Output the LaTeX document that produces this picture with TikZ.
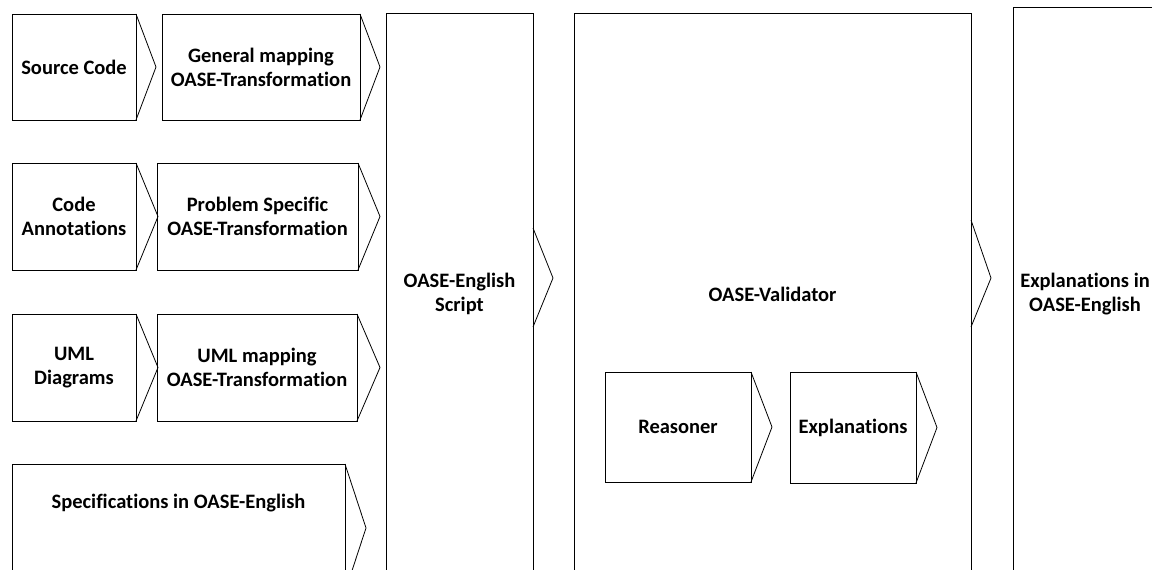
\documentclass[tikz,border=0pt]{standalone}
\usepackage{fontspec}
\setmainfont{Carlito}[RawFeature={-liga}]
\begin{document}
\begin{tikzpicture}[x=1bp,y=-1bp,
  box/.style={draw=black, line width=0.8bp, rectangle, inner sep=0pt, outer sep=0pt,
    align=center, font=\bfseries\fontsize{20.5bp}{24bp}\selectfont},
  lbl/.style={inner sep=0pt, align=center, font=\bfseries\fontsize{20.5bp}{24bp}\selectfont},
  chev/.style={draw=black, line width=0.8bp, line join=miter}]
\useasboundingbox (0,0) rectangle (1152,570);

% input sources and their transformations
\node[box, minimum width=124bp, minimum height=106bp] (src) at (74,67) {Source Code};
\node[box, minimum width=198bp, minimum height=106bp] (gen) at (261,67) {General mapping\\OASE-Transformation};
\node[box, minimum width=124bp, minimum height=107bp] (ann) at (74,216.5) {Code\\Annotations};
\node[box, minimum width=201bp, minimum height=107bp] (prob) at (257.5,216.5) {Problem Specific\\OASE-Transformation};
\node[box, minimum width=124bp, minimum height=107bp] (uml) at (74,367.5) {UML\\Diagrams};
\node[box, minimum width=200bp, minimum height=107bp] (umlmap) at (257,367.5) {UML mapping\\OASE-Transformation};
\node[box, minimum width=333bp, minimum height=128bp] (spec) at (178.5,528) {};
\node[lbl] (spectext) at (178.5,503) {Specifications in OASE-English};

\draw[chev] (src.north east) -- ([xshift=20bp]src.east) -- (src.south east);
\draw[chev] (gen.north east) -- ([xshift=20bp]gen.east) -- (gen.south east);
\draw[chev] (ann.north east) -- ([xshift=22bp]ann.east) -- (ann.south east);
\draw[chev] (prob.north east) -- ([xshift=22bp]prob.east) -- (prob.south east);
\draw[chev] (uml.north east) -- ([xshift=22bp]uml.east) -- (uml.south east);
\draw[chev] (umlmap.north east) -- ([xshift=23bp]umlmap.east) -- (umlmap.south east);
\draw[chev] (spec.north east) -- ([xshift=21bp]spec.east) -- (spec.south east);

% script, validator and output
\node[box, minimum width=147bp, minimum height=562bp] (script) at (459.5,294) {OASE-English\\Script};
\node[box, minimum width=397bp, minimum height=562bp] (valid) at (772.5,294) {OASE-Validator};
\node[box, minimum width=144bp, minimum height=574bp] (out) at (1085,294) {Explanations in\\OASE-English};

\draw[chev] ([yshift=66bp]script.east) -- ([xshift=20bp,yshift=16bp]script.east) -- ([yshift=-33bp]script.east);
\draw[chev] ([yshift=74bp]valid.east) -- ([xshift=20bp,yshift=16bp]valid.east) -- ([yshift=-33bp]valid.east);

% inside the validator
\node[box, minimum width=146bp, minimum height=110bp] (reas) at (678,427) {Reasoner};
\node[box, minimum width=126bp, minimum height=111bp] (expl) at (853,427.5) {Explanations};
\draw[chev] (reas.north east) -- ([xshift=21bp]reas.east) -- (reas.south east);
\draw[chev] (expl.north east) -- ([xshift=21bp]expl.east) -- (expl.south east);
\end{tikzpicture}
\end{document}
